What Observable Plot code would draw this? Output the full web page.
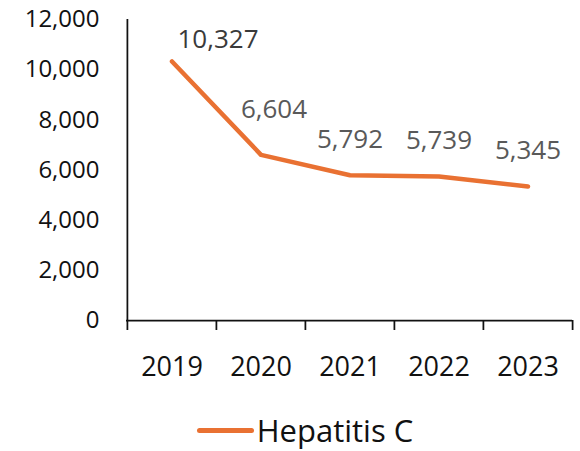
<!DOCTYPE html>
<html><head><meta charset="utf-8">
<script src="https://cdn.jsdelivr.net/npm/d3@7"></script>
<script src="https://cdn.jsdelivr.net/npm/@observablehq/plot@0.6"></script>
<style>
html,body{margin:0;padding:0;background:#fff;}
body{width:580px;height:451px;overflow:hidden;font-family:"Open Sans",sans-serif;}
#chart svg{display:block;}
#legend{height:56px;box-sizing:border-box;padding-top:14px;display:flex;justify-content:center;align-items:center;padding-left:30px;}
#legend .sw{display:inline-block;width:57px;height:5px;border-radius:3px;background:#E97132;margin-right:3px;}
#legend .lb{font-size:31px;color:#111;line-height:40px;}
</style></head><body>
<div id="chart"></div>
<div id="legend"></div>
<script>
const years = ["2019", "2020", "2021", "2022", "2023"];
const cases = [10327, 6604, 5792, 5739, 5345];
const yTicks = [0, 2000, 4000, 6000, 8000, 10000, 12000];
const seriesName = "Hepatitis C";

const data = years.map((year, i) => ({year, value: cases[i]}));
const W = 580, H = 395, ML = 126, MR = 8, MT = 19, MB = 75;
const step = (W - ML - MR) / years.length;
const fmt = d3.format(",");
const lineColor = "#E97132";
const axisStroke = {stroke: "#111", strokeWidth: 1.75};

const chart = Plot.plot({
  width: W, height: H,
  marginLeft: ML, marginRight: MR, marginTop: MT, marginBottom: MB,
  style: {fontFamily: "'Open Sans', sans-serif", background: "#fff", color: "#111", overflow: "visible"},
  x: {type: "band", domain: years, padding: 0},
  y: {domain: [0, 12000]},
  marks: [
    Plot.axisY({ticks: yTicks, tickSize: 0, tickPadding: 27, tickFormat: fmt, fontSize: 24, label: null}),
    Plot.axisX({tickSize: 0, tickPadding: 36, fontSize: 27, label: null}),
    Plot.axisX({tickSize: 10, tickFormat: () => "", dx: -step / 2, label: null, ...axisStroke}),
    Plot.axisX({ticks: [years[years.length - 1]], tickSize: 10, tickFormat: () => "", dx: step / 2, label: null, ...axisStroke}),
    Plot.ruleY([0], axisStroke),
    Plot.ruleX([years[0]], {dx: -step / 2, ...axisStroke}),
    Plot.line(data, {x: "year", y: "value", stroke: lineColor, strokeWidth: 4.5, strokeLinecap: "round", strokeLinejoin: "round"}),
    Plot.text(data, {filter: (d, i) => i === 0, x: "year", y: "value", text: d => fmt(d.value), dx: 46, dy: -22, fill: "#3a3a3a", fontSize: 26}),
    Plot.text(data, {filter: (d, i) => i === 1, x: "year", y: "value", text: d => fmt(d.value), dx: 13, dy: -45, fill: "#595959", fontSize: 26}),
    Plot.text(data, {filter: (d, i) => i >= 2, x: "year", y: "value", text: d => fmt(d.value), dy: -36, fill: "#595959", fontSize: 26})
  ]
});
document.getElementById("chart").appendChild(chart);
const lg = document.getElementById("legend");
lg.innerHTML = `<span class="sw"></span><span class="lb">${seriesName}</span>`;
</script>
</body></html>
